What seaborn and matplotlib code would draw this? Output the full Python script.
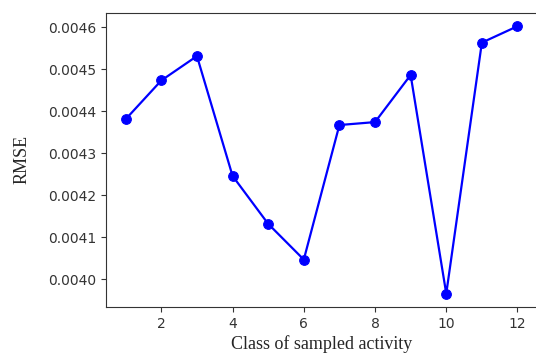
import matplotlib
matplotlib.use("Agg")
import matplotlib.pyplot as plt
import seaborn as sns
import pandas as pd

# RMSE per class of sampled activity
classes = [1, 2, 3, 4, 5, 6, 7, 8, 9, 10, 11, 12]
rmse = [0.004381, 0.004473, 0.004531, 0.004246, 0.004132, 0.004047,
        0.004367, 0.004374, 0.004486, 0.003966, 0.004563, 0.004602]
xticks = [2, 4, 6, 8, 10, 12]
yticks = [0.0040, 0.0041, 0.0042, 0.0043, 0.0044, 0.0045, 0.0046]

df = pd.DataFrame({"cls": classes, "rmse": rmse})

sns.set_style("ticks")
plt.rcParams["font.family"] = ["DejaVu Sans"]

fig = plt.figure(figsize=(5.36, 3.57), dpi=100)
ax = fig.add_axes([0.198, 0.140, 0.804, 0.824])

sns.lineplot(data=df, x="cls", y="rmse", ax=ax, color="blue", marker="o",
             markersize=7, markeredgecolor="blue", linewidth=1.6)

ax.set_xticks(xticks)
ax.set_yticks(yticks)
ax.set_yticklabels([f"{v:.4f}" for v in yticks])
ax.tick_params(labelsize=10, colors="#333333", labelcolor="#333333")
for s in ax.spines.values():
    s.set_color("#333333")

ax.set_xlabel("Class of sampled activity", family="Liberation Serif",
              fontsize=13, labelpad=3)
ax.set_ylabel("RMSE", family="Liberation Serif", fontsize=13, labelpad=13)

fig.savefig("out.png", dpi=100)
